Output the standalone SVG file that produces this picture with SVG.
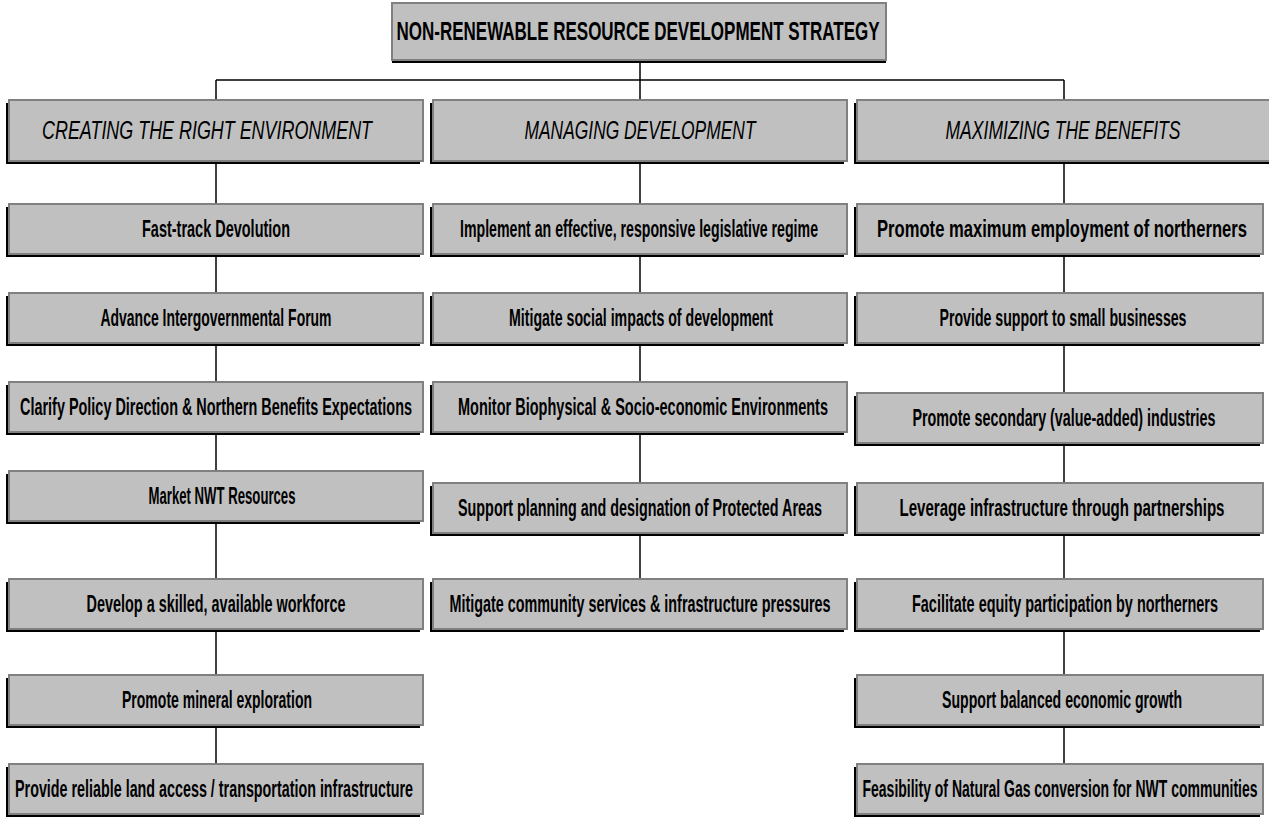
<svg xmlns="http://www.w3.org/2000/svg" width="1269" height="819" viewBox="0 0 1269 819">
<style>
.box{fill:#c0c0c0;stroke:#808080;stroke-width:2}
.sh{fill:#000}
.t{font-family:"Liberation Sans",Arial,sans-serif;font-weight:bold;font-size:12.5px;fill:#000;text-anchor:middle}
.h{font-family:"Liberation Sans",Arial,sans-serif;font-style:italic;font-size:16px;fill:#000;text-anchor:middle}
.ti{font-family:"Liberation Sans",Arial,sans-serif;font-weight:bold;font-size:16px;fill:#000;text-anchor:middle}
.c{stroke:#000;stroke-width:1.5;fill:none}
</style>
<rect width="1269" height="819" fill="#fff"/>
<g id="connectors">
<path class="c" d="M640 60V100M216 80H1064M216 80V100M1064 80V100"/>
<path class="c" d="M216 161V204M216 254V293M216 343V382M216 432V471M216 521V579M216 629V675M216 725V764"/>
<path class="c" d="M640 161V204M640 254V293M640 343V382M640 432V483M640 533V579"/>
<path class="c" d="M1064 161V204M1064 254V293M1064 343V393M1064 443V483M1064 533V579M1064 629V675M1064 725V764"/>
</g>
<g id="title">
<rect class="sh" x="392" y="6" width="494" height="57"/>
<rect class="box" x="392" y="3" width="494" height="57"/>
<text class="ti" transform="translate(638 40) scale(1 1.6)" textLength="483" lengthAdjust="spacingAndGlyphs">NON-RENEWABLE RESOURCE DEVELOPMENT STRATEGY</text>
</g>
<g id="h1">
<rect class="sh" x="6" y="103" width="414" height="61"/>
<rect class="box" x="9" y="100" width="414" height="61"/>
<text class="h" transform="translate(207 139) scale(1 1.65)" textLength="330" lengthAdjust="spacingAndGlyphs">CREATING THE RIGHT ENVIRONMENT</text>
</g>
<g id="h2">
<rect class="sh" x="430" y="103" width="414" height="61"/>
<rect class="box" x="433" y="100" width="414" height="61"/>
<text class="h" transform="translate(640 139) scale(1 1.65)" textLength="231" lengthAdjust="spacingAndGlyphs">MANAGING DEVELOPMENT</text>
</g>
<g id="h3">
<rect class="sh" x="854" y="103" width="420" height="61"/>
<rect class="box" x="857" y="100" width="420" height="61"/>
<text class="h" transform="translate(1063 139) scale(1 1.65)" textLength="235" lengthAdjust="spacingAndGlyphs">MAXIMIZING THE BENEFITS</text>
</g>
<g id="l1"><rect class="sh" x="6" y="207" width="414" height="50"/><rect class="box" x="9" y="204" width="414" height="50"/><text class="t" transform="translate(216 237) scale(1 1.9)" textLength="148" lengthAdjust="spacingAndGlyphs">Fast-track Devolution</text></g>
<g id="l2"><rect class="sh" x="6" y="296" width="414" height="50"/><rect class="box" x="9" y="293" width="414" height="50"/><text class="t" transform="translate(216 326) scale(1 1.9)" textLength="231" lengthAdjust="spacingAndGlyphs">Advance Intergovernmental Forum</text></g>
<g id="l3"><rect class="sh" x="6" y="385" width="414" height="50"/><rect class="box" x="9" y="382" width="414" height="50"/><text class="t" transform="translate(216 415) scale(1 1.9)" textLength="392" lengthAdjust="spacingAndGlyphs">Clarify Policy Direction &amp; Northern Benefits Expectations</text></g>
<g id="l4"><rect class="sh" x="6" y="474" width="414" height="50"/><rect class="box" x="9" y="471" width="414" height="50"/><text class="t" transform="translate(222 504) scale(1 1.9)" textLength="147" lengthAdjust="spacingAndGlyphs">Market NWT Resources</text></g>
<g id="l5"><rect class="sh" x="6" y="582" width="414" height="50"/><rect class="box" x="9" y="579" width="414" height="50"/><text class="t" transform="translate(216 612) scale(1 1.9)" textLength="259" lengthAdjust="spacingAndGlyphs">Develop a skilled, available workforce</text></g>
<g id="l6"><rect class="sh" x="6" y="678" width="414" height="50"/><rect class="box" x="9" y="675" width="414" height="50"/><text class="t" transform="translate(217 708) scale(1 1.9)" textLength="190" lengthAdjust="spacingAndGlyphs">Promote mineral exploration</text></g>
<g id="l7"><rect class="sh" x="6" y="767" width="414" height="50"/><rect class="box" x="9" y="764" width="414" height="50"/><text class="t" transform="translate(214 797) scale(1 1.9)" textLength="398" lengthAdjust="spacingAndGlyphs">Provide reliable land access / transportation infrastructure</text></g>
<g id="m1"><rect class="sh" x="430" y="207" width="414" height="50"/><rect class="box" x="433" y="204" width="414" height="50"/><text class="t" transform="translate(639 237) scale(1 1.9)" textLength="358" lengthAdjust="spacingAndGlyphs">Implement an effective, responsive legislative regime</text></g>
<g id="m2"><rect class="sh" x="430" y="296" width="414" height="50"/><rect class="box" x="433" y="293" width="414" height="50"/><text class="t" transform="translate(641 326) scale(1 1.9)" textLength="264" lengthAdjust="spacingAndGlyphs">Mitigate social impacts of development</text></g>
<g id="m3"><rect class="sh" x="430" y="385" width="414" height="50"/><rect class="box" x="433" y="382" width="414" height="50"/><text class="t" transform="translate(643 415) scale(1 1.9)" textLength="370" lengthAdjust="spacingAndGlyphs">Monitor Biophysical &amp; Socio-economic Environments</text></g>
<g id="m4"><rect class="sh" x="430" y="486" width="414" height="50"/><rect class="box" x="433" y="483" width="414" height="50"/><text class="t" transform="translate(640 516) scale(1 1.9)" textLength="364" lengthAdjust="spacingAndGlyphs">Support planning and designation of Protected Areas</text></g>
<g id="m5"><rect class="sh" x="430" y="582" width="414" height="50"/><rect class="box" x="433" y="579" width="414" height="50"/><text class="t" transform="translate(640 612) scale(1 1.9)" textLength="381" lengthAdjust="spacingAndGlyphs">Mitigate community services &amp; infrastructure pressures</text></g>
<g id="r1"><rect class="sh" x="854" y="207" width="406" height="50"/><rect class="box" x="857" y="204" width="406" height="50"/><text class="t" transform="translate(1062 237) scale(1 1.9)" textLength="370" lengthAdjust="spacingAndGlyphs">Promote maximum employment of northerners</text></g>
<g id="r2"><rect class="sh" x="854" y="296" width="406" height="50"/><rect class="box" x="857" y="293" width="406" height="50"/><text class="t" transform="translate(1063 326) scale(1 1.9)" textLength="247" lengthAdjust="spacingAndGlyphs">Provide support to small businesses</text></g>
<g id="r3"><rect class="sh" x="854" y="396" width="406" height="50"/><rect class="box" x="857" y="393" width="406" height="50"/><text class="t" transform="translate(1064 426) scale(1 1.9)" textLength="303" lengthAdjust="spacingAndGlyphs">Promote secondary (value-added) industries</text></g>
<g id="r4"><rect class="sh" x="854" y="486" width="406" height="50"/><rect class="box" x="857" y="483" width="406" height="50"/><text class="t" transform="translate(1062 516) scale(1 1.9)" textLength="325" lengthAdjust="spacingAndGlyphs">Leverage infrastructure through partnerships</text></g>
<g id="r5"><rect class="sh" x="854" y="582" width="406" height="50"/><rect class="box" x="857" y="579" width="406" height="50"/><text class="t" transform="translate(1065 612) scale(1 1.9)" textLength="306" lengthAdjust="spacingAndGlyphs">Facilitate equity participation by northerners</text></g>
<g id="r6"><rect class="sh" x="854" y="678" width="406" height="50"/><rect class="box" x="857" y="675" width="406" height="50"/><text class="t" transform="translate(1062 708) scale(1 1.9)" textLength="240" lengthAdjust="spacingAndGlyphs">Support balanced economic growth</text></g>
<g id="r7"><rect class="sh" x="854" y="767" width="406" height="50"/><rect class="box" x="857" y="764" width="406" height="50"/><text class="t" transform="translate(1060 797) scale(1 1.9)" textLength="395" lengthAdjust="spacingAndGlyphs">Feasibility of Natural Gas conversion for NWT communities</text></g>
</svg>
